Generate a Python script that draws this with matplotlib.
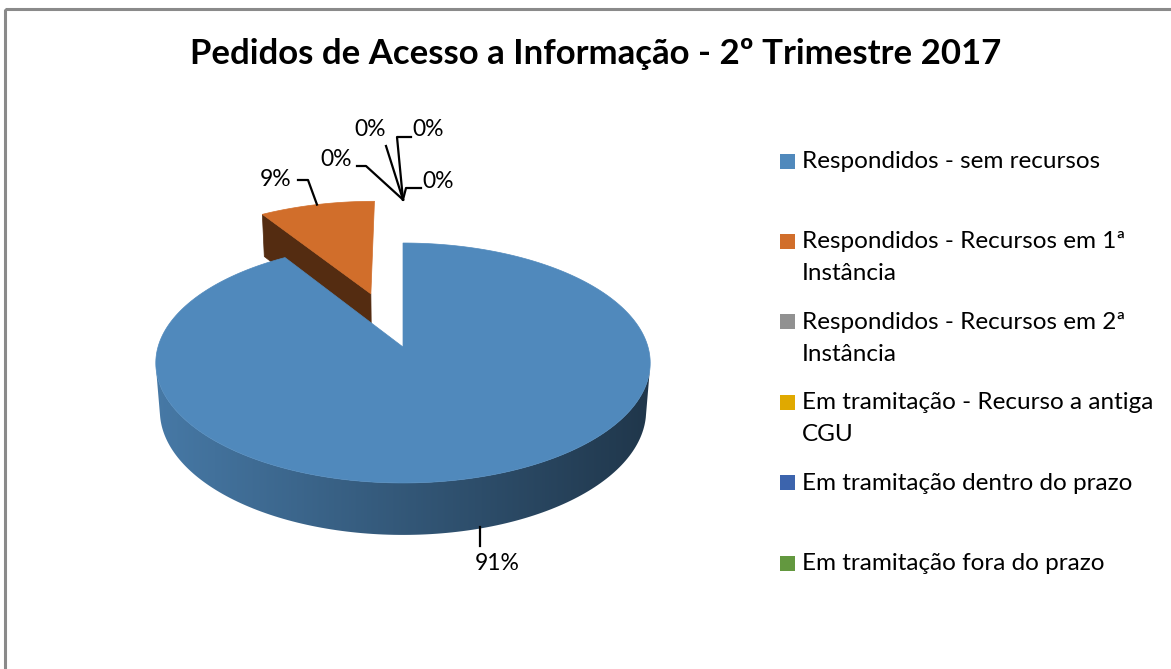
'''
Pedidos de Acesso a Informação - 3D pie (Excel look), drawn with plain patches.
'''

import numpy as np
import matplotlib as mpl
from matplotlib import pyplot as plt
from matplotlib.patches import Polygon, Rectangle

mpl.rcParams['font.family'] = ['Lato', 'DejaVu Sans']


# data
title        = 'Pedidos de Acesso a Informação - 2º Trimestre 2017'
categories   = ['Respondidos - sem recursos',
                'Respondidos - Recursos em 1ª\nInstância',
                'Respondidos - Recursos em 2ª\nInstância',
                'Em tramitação - Recurso a antiga\nCGU',
                'Em tramitação dentro do prazo',
                'Em tramitação fora do prazo']
values       = [91, 9, 0, 0, 0, 0]
pct_labels   = ['91%', '9%', '0%', '0%', '0%', '0%']
colors       = ['#5089BC', '#D16E2B', '#919191', '#E0A900', '#3C64AD', '#63983F']
explode      = [0.0, 0.5, 0.5, 0.5, 0.5, 0.5]

# camera / layout (pixels)
cx, cy       = 403, 347
S            = 245
phi          = np.arcsin(0.481)
D            = 6.58
H            = 0.224
sn, cs       = np.sin(phi), np.cos(phi)


def proj(x, y, z):
	v = y*sn + z*cs
	w = y*cs - z*sn
	k = D / (D + w)
	return cx + S*x*k, cy - S*v*k


def depth(x, y, z):
	return y*cs - z*sn


def shade(c, f):
	r, g, b = mpl.colors.to_rgb(c)
	return (r*f, g*f, b*f)


def facing(nrm, p):
	v = cam - p
	return np.dot(nrm, v) / np.linalg.norm(v)


cam = np.array([0.0, -D*cs, D*sn])

plt.close('all')
fig = plt.figure(figsize=(11.71, 6.69), dpi=100)
ax = fig.add_axes([0, 0, 1, 1])

total = float(sum(values))
cum = np.concatenate([[0], np.cumsum(values)]) / total
slices = []
for i, val in enumerate(values):
	t0 = np.deg2rad(90 - 360*cum[i])
	t1 = np.deg2rad(90 - 360*cum[i+1])
	tm = 0.5*(t0 + t1)
	ox, oy = explode[i]*np.cos(tm), explode[i]*np.sin(tm)
	slices.append(dict(t0=t0, t1=t1, tm=tm, ox=ox, oy=oy, depth=depth(ox + 0.5*np.cos(tm), oy + 0.5*np.sin(tm), 0)))

# draw far slices first
order = sorted([i for i in range(len(values)) if values[i] > 0], key=lambda i: -slices[i]['depth'])
zo = 1
for i in order:
	sl = slices[i]
	ox, oy = sl['ox'], sl['oy']
	t = np.linspace(sl['t0'], sl['t1'], 300)
	rx, ry = ox + np.cos(t), oy + np.sin(t)

	# radial faces (t0 is the larger angle, slice lies clockwise of it)
	for te, sgn in [(sl['t0'], 1), (sl['t1'], -1)]:
		nrm = np.array([-sgn*np.sin(te), sgn*np.cos(te), 0.0])
		p = np.array([ox + 0.5*np.cos(te), oy + 0.5*np.sin(te), -H/2])
		if facing(nrm, p) > 0.05:
			pts = [proj(ox, oy, 0), proj(ox + np.cos(te), oy + np.sin(te), 0),
			       proj(ox + np.cos(te), oy + np.sin(te), -H), proj(ox, oy, -H)]
			ax.add_patch(Polygon(pts, closed=True, fc=shade(colors[i], 0.40), ec=shade(colors[i], 0.40), lw=0.5, zorder=zo))
			zo += 1

	# outer side: visible part, filled with a horizontal gradient
	vis = [tt for tt in t if facing(np.array([np.cos(tt), np.sin(tt), 0]), np.array([ox + np.cos(tt), oy + np.sin(tt), -H/2])) > 0]
	if len(vis) > 1:
		vis = np.array(vis)
		top = [proj(ox + np.cos(tt), oy + np.sin(tt), 0) for tt in vis]
		bot = [proj(ox + np.cos(tt), oy + np.sin(tt), -H) for tt in vis[::-1]]
		side = Polygon(top + bot, closed=True, fc='none', ec='none', zorder=zo)
		ax.add_patch(side)
		xs = np.array([q[0] for q in top + bot])
		ys = np.array([q[1] for q in top + bot])
		gx = np.linspace(xs.min(), xs.max(), 256)
		f = 0.88 - 0.48*np.clip((gx - (cx - S)) / (2*S), 0, 1)
		rgb = np.array(mpl.colors.to_rgb(colors[i]))
		img = (f[None, :, None] * rgb[None, None, :]).repeat(2, axis=0)
		im = ax.imshow(img, extent=(xs.min(), xs.max(), ys.max(), ys.min()), origin='upper',
		               aspect='auto', interpolation='bilinear', zorder=zo)
		im.set_clip_path(side)
		zo += 1

	# top face
	pts = [proj(ox, oy, 0)] + [proj(a, b, 0) for a, b in zip(rx, ry)]
	ax.add_patch(Polygon(pts, closed=True, fc=colors[i], ec=colors[i], lw=0.5, zorder=zo))
	zo += 1


# data labels
lab_pos = [(497, 563), (276, 180), (336, 160), (370, 130), (428, 130), (438, 182)]
elbows  = [None, (308, 180), (366, 166), (386, 146), (397, 137), (406, 188)]
ends    = [None, (298, 180), (357, 166), (386, 146), (411, 137), (421, 188)]
for i, lab in enumerate(pct_labels):
	sl = slices[i]
	ax_, ay_ = sl['ox'] + np.cos(sl['tm']), sl['oy'] + np.sin(sl['tm'])
	if i == 0:
		x0, y0 = proj(ax_, ay_, -H)
		ax.plot([x0, x0], [y0 - 2, lab_pos[i][1] - 17], color='k', lw=1.6, zorder=zo)
	else:
		x0, y0 = proj(ax_, ay_, 0)
		ax.plot([x0, elbows[i][0], ends[i][0]], [y0, elbows[i][1], ends[i][1]], color='k', lw=1.6, zorder=zo)
	ax.text(lab_pos[i][0], lab_pos[i][1], lab, ha='center', va='center', fontsize=16.5, zorder=zo)


# legend
for i, cat in enumerate(categories):
	yc = 161 + 80.4*i
	ax.add_patch(Rectangle((780, yc - 7.5), 15, 15, fc=colors[i], ec='none'))
	for k, line in enumerate(cat.split('\n')):
		ax.text(802, yc + 7 + 32*k, line, ha='left', va='baseline', fontsize=17.5)


ax.text(596, 64, title, ha='center', va='baseline', fontsize=25, weight='bold')
ax.add_patch(Rectangle((5, 9), 1400, 900, fill=False, ec='#8a8a8a', lw=2.2))

ax.set_xlim(0, 1171)
ax.set_ylim(669, 0)
ax.axis('off')

plt.savefig('out.png', dpi=100)
